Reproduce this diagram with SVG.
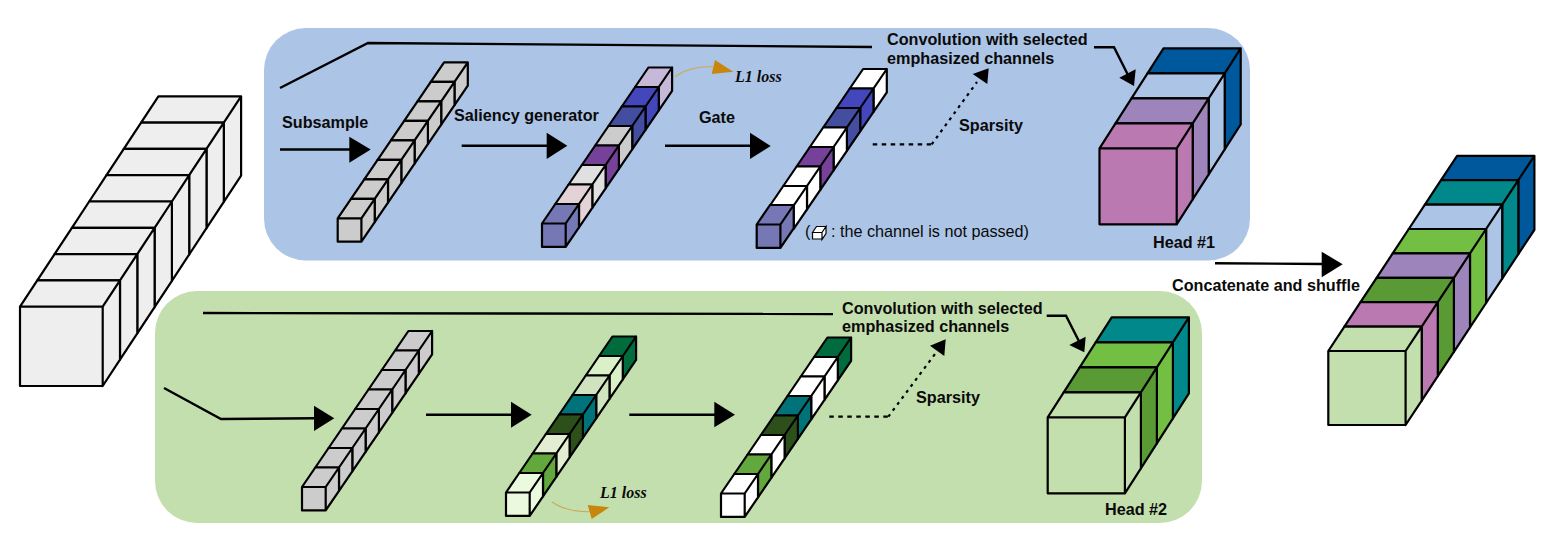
<svg xmlns="http://www.w3.org/2000/svg" xmlns:xlink="http://www.w3.org/1999/xlink" width="1568" height="557" viewBox="0 0 1568 557">
<style>
text{font-family:"Liberation Sans",Arial,sans-serif;font-size:16.2px;font-weight:bold;fill:#0a0a0a}
.note{font-weight:normal;font-size:16.2px}
.loss{font-family:"Liberation Serif","Times New Roman",serif;font-style:italic;font-size:16px}
.blk{stroke:#000;stroke-width:2.2;stroke-linejoin:round}
.ln{fill:none;stroke:#000;stroke-width:2.4}
.dash{fill:none;stroke:#000;stroke-width:2.2;stroke-dasharray:4.5 4.5}
.dot{fill:none;stroke:#000;stroke-width:2.2;stroke-dasharray:3 4.5}
.cur{fill:none;stroke:#cda960;stroke-width:1.1}
.hd{fill:#000}
.or{fill:#c8860d}
</style>
<defs>
<path id="c" class="blk" d="M0 0l17.3-26.3h82.7l-17.3 26.3zM82.7 0l17.3-26.3v79.3l-17.3 26.3zM0 0h82.7v79.3h-82.7z"/>
<path id="s" class="blk" d="M0 0l13.3-19.5h23.7l-13.3 19.5zM23.7 0l13.3-19.5v23.4l-13.3 19.5zM0 0h23.7v23.4h-23.7z"/>
<path id="h" class="blk" d="M0 0l16-25h77.2l-16 25zM77.2 0l16-25v76l-16 25zM0 0h77.2v76h-77.2z"/>
<path id="m" class="blk" d="M0 0l16.1-24.4h77.3l-16.1 24.4zM77.3 0l16.1-24.4v74l-16.1 24.4zM0 0h77.3v74h-77.3z"/>
</defs>
<rect id="panel-head-1" x="264" y="28" width="986" height="232.500" rx="42" fill="#acc4e6"/>
<rect id="panel-head-2" x="155" y="291" width="1047" height="232" rx="42" fill="#c3dfae"/>
<g id="input-tensor" fill="#eeeeee">
<use xlink:href="#c" x="141.100" y="122.600"/><use xlink:href="#c" x="123.800" y="148.900"/><use xlink:href="#c" x="106.500" y="175.200"/><use xlink:href="#c" x="89.200" y="201.500"/><use xlink:href="#c" x="71.900" y="227.800"/><use xlink:href="#c" x="54.600" y="254.100"/><use xlink:href="#c" x="37.300" y="280.400"/><use xlink:href="#c" x="20" y="306.700"/>
</g>
<g id="subsample-1" fill="#cccccc">
<use xlink:href="#s" x="430.800" y="81.800"/><use xlink:href="#s" x="417.500" y="101.300"/><use xlink:href="#s" x="404.200" y="120.800"/><use xlink:href="#s" x="390.900" y="140.300"/><use xlink:href="#s" x="377.600" y="159.800"/><use xlink:href="#s" x="364.300" y="179.300"/><use xlink:href="#s" x="351" y="198.800"/><use xlink:href="#s" x="337.700" y="218.300"/>
</g>
<g id="saliency-1">
<use xlink:href="#s" x="635.100" y="87" fill="#c6b8d8"/><use xlink:href="#s" x="621.800" y="106.500" fill="#4347bb"/><use xlink:href="#s" x="608.500" y="126" fill="#434ea0"/><use xlink:href="#s" x="595.200" y="145.500" fill="#cccccc"/><use xlink:href="#s" x="581.900" y="165" fill="#764299"/><use xlink:href="#s" x="568.600" y="184.500" fill="#e0e0e0"/><use xlink:href="#s" x="555.300" y="204" fill="#e3d3d6"/><use xlink:href="#s" x="542" y="223.500" fill="#7678b5"/>
</g>
<g id="gated-1">
<use xlink:href="#s" x="849.800" y="88.500" fill="#fff"/><use xlink:href="#s" x="836.500" y="108" fill="#4347bb"/><use xlink:href="#s" x="823.200" y="127.500" fill="#434ea0"/><use xlink:href="#s" x="809.900" y="147" fill="#fff"/><use xlink:href="#s" x="796.600" y="166.500" fill="#764299"/><use xlink:href="#s" x="783.300" y="186" fill="#fff"/><use xlink:href="#s" x="770" y="205.500" fill="#fff"/><use xlink:href="#s" x="756.700" y="224.500" fill="#7678b5"/>
</g>
<g id="head-1">
<use xlink:href="#h" x="1147.500" y="73.300" fill="#00589c"/><use xlink:href="#h" x="1131.500" y="98.300" fill="#acc4e6"/><use xlink:href="#h" x="1115.500" y="123.300" fill="#9d84bb"/><use xlink:href="#h" x="1099.500" y="148.300" fill="#bb79b2"/>
</g>
<g id="subsample-2" fill="#cccccc">
<use xlink:href="#s" x="395.100" y="350.500"/><use xlink:href="#s" x="381.800" y="370"/><use xlink:href="#s" x="368.500" y="389.500"/><use xlink:href="#s" x="355.200" y="409"/><use xlink:href="#s" x="341.900" y="428.500"/><use xlink:href="#s" x="328.600" y="448"/><use xlink:href="#s" x="315.300" y="467.500"/><use xlink:href="#s" x="302" y="487"/>
</g>
<g id="saliency-2">
<use xlink:href="#s" x="599.100" y="356" fill="#006b3c"/><use xlink:href="#s" x="585.800" y="375.500" fill="#daf0c8"/><use xlink:href="#s" x="572.500" y="395" fill="#cfe3c0"/><use xlink:href="#s" x="559.200" y="414.500" fill="#00737a"/><use xlink:href="#s" x="545.900" y="434" fill="#2d501b"/><use xlink:href="#s" x="532.600" y="453.500" fill="#e3edd2"/><use xlink:href="#s" x="519.300" y="473" fill="#62a83c"/><use xlink:href="#s" x="506" y="492.500" fill="#ebf9de"/>
</g>
<g id="gated-2">
<use xlink:href="#s" x="814.100" y="357" fill="#006b3c"/><use xlink:href="#s" x="800.800" y="376.500" fill="#fff"/><use xlink:href="#s" x="787.500" y="396" fill="#fff"/><use xlink:href="#s" x="774.200" y="415.500" fill="#00737a"/><use xlink:href="#s" x="760.900" y="435" fill="#2d501b"/><use xlink:href="#s" x="747.600" y="454.500" fill="#fff"/><use xlink:href="#s" x="734.300" y="474" fill="#62a83c"/><use xlink:href="#s" x="721" y="493.500" fill="#fff"/>
</g>
<g id="head-2">
<use xlink:href="#h" x="1095.700" y="342.300" fill="#00888a"/><use xlink:href="#h" x="1079.700" y="367.300" fill="#72bf44"/><use xlink:href="#h" x="1063.700" y="392.300" fill="#5a9a35"/><use xlink:href="#h" x="1047.700" y="417.300" fill="#c3dfae"/>
</g>
<g id="output-tensor">
<use xlink:href="#m" x="1441" y="180.200" fill="#00589c"/><use xlink:href="#m" x="1424.900" y="204.600" fill="#00888a"/><use xlink:href="#m" x="1408.800" y="229" fill="#acc4e6"/><use xlink:href="#m" x="1392.700" y="253.400" fill="#72bf44"/><use xlink:href="#m" x="1376.600" y="277.800" fill="#9d84bb"/><use xlink:href="#m" x="1360.500" y="302.200" fill="#5a9a35"/><use xlink:href="#m" x="1344.400" y="326.600" fill="#bb79b2"/><use xlink:href="#m" x="1328.300" y="351" fill="#c3dfae"/>
</g>
<g id="connectors">
<path class="ln" d="M280 88L368 43L872 47"/>
<path class="ln" d="M1094 47.300H1114L1129 77"/><path class="hd" d="M1135.700 69.300L1119.300 77.700L1134 86z"/>
<path class="ln" d="M280 149.500H350"/><path class="hd" d="M349.300 136.700L370.700 149.500L349.300 162.700z"/>
<path class="ln" d="M461.700 145.700H548"/><path class="hd" d="M546.700 132.700L567.300 145.700L546.700 159z"/>
<path class="ln" d="M665 145.700H751"/><path class="hd" d="M750 132.700L770.700 146L750 159z"/>
<path class="dash" d="M872.700 144.300H931.700"/><path class="dot" d="M931.700 144.300L977 82"/><path class="hd" d="M972.700 74L988.700 68.300L987.300 84z"/>
<path class="cur" d="M675 76.700Q690 66 713 66.700"/><path class="or" d="M715 60L733.300 71.700L711.700 74z"/>
<path class="ln" d="M203 313L833 314"/>
<path class="ln" d="M1046.700 315.700H1066L1080 343.300"/><path class="hd" d="M1085.700 336.700L1069.300 345L1084.300 352.300z"/>
<path class="ln" d="M164 388L221 419L315 418.300"/><path class="hd" d="M314 405.700L334.300 418.300L314 431z"/>
<path class="ln" d="M426 414.700H512"/><path class="hd" d="M511 401.700L531.700 414.700L511 427.700z"/>
<path class="ln" d="M629.300 414.700H715"/><path class="hd" d="M714.300 401.700L735 414.700L714.300 427.300z"/>
<path class="dash" d="M829.300 416.700H888.300"/><path class="dot" d="M888.300 416.700L935 354"/><path class="hd" d="M930 345.700L945.700 339.300L944.300 356z"/>
<path class="cur" d="M551.700 501.700Q566 512 590 511.700"/><path class="or" d="M587.700 505L609.300 507.300L591.700 519z"/>
<path class="ln" d="M1215 263.300L1322 264"/><path class="hd" d="M1321.700 251.700L1342.700 264.300L1321.700 277.300z"/>
</g>
<g id="legend-cube">
<path fill="#fff" stroke="#000" stroke-width="1.200" d="M812.500 232.500l4-6h9.500l-4 6zM822 232.500l4-6v7l-4 6zM812.500 232.500h9.500v6.500h-9.500z"/>
</g>
<g id="labels">
<text x="282" y="128">Subsample</text>
<text x="454" y="121">Saliency generator</text>
<text x="699" y="123">Gate</text>
<text x="887" y="45">Convolution with selected</text>
<text x="887" y="64">emphasized channels</text>
<text x="959" y="131">Sparsity</text>
<text class="note" x="805" y="237">(</text>
<text class="note" x="831" y="237">: the channel is not passed)</text>
<text x="1153" y="248">Head #1</text>
<text class="loss" x="735" y="82">L1 loss</text>
<text x="1172" y="291">Concatenate and shuffle</text>
<text x="842" y="314">Convolution with selected</text>
<text x="842" y="332">emphasized channels</text>
<text x="916" y="403">Sparsity</text>
<text x="1105" y="515">Head #2</text>
<text class="loss" x="600" y="498">L1 loss</text>
</g>
</svg>
